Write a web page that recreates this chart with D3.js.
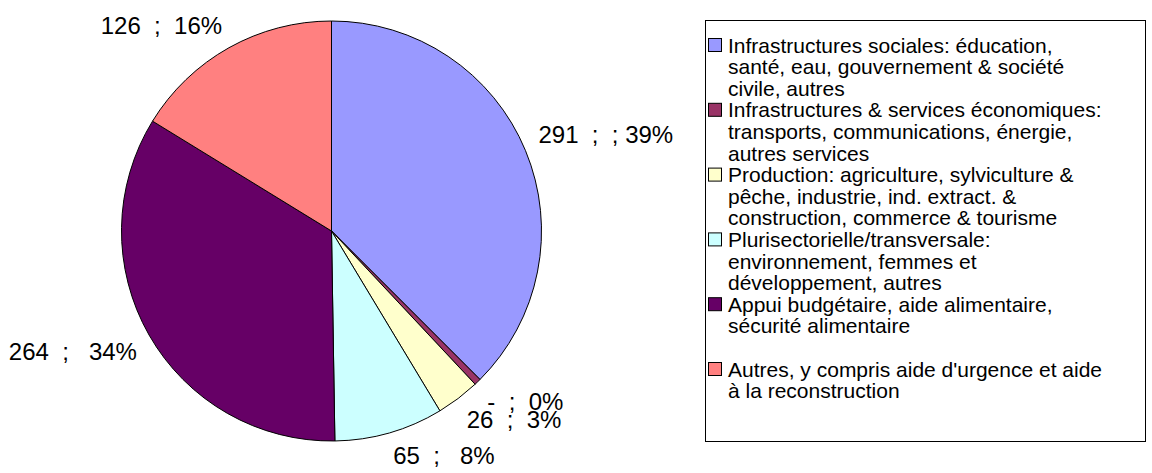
<!DOCTYPE html>
<html>
<head>
<meta charset="utf-8">
<script src="https://cdn.jsdelivr.net/npm/d3@7"></script>
<style>
  html, body { margin: 0; padding: 0; background: #fff; }
  svg { display: block; font-family: "Liberation Sans", Arial, sans-serif; }
</style>
</head>
<body>
<svg id="chart" width="1152" height="473"></svg>
<script>
// ---- data ----
const categories = [
  "Infrastructures sociales: éducation, santé, eau, gouvernement & société civile, autres",
  "Infrastructures & services économiques: transports, communications, énergie, autres services",
  "Production: agriculture, sylviculture & pêche, industrie, ind. extract. & construction, commerce & tourisme",
  "Plurisectorielle/transversale: environnement, femmes et développement, autres",
  "Appui budgétaire, aide alimentaire, sécurité alimentaire",
  "Autres, y compris aide d'urgence et aide à la reconstruction"
];
const legendLines = [
  ["Infrastructures sociales: éducation,", "santé, eau, gouvernement & société", "civile, autres"],
  ["Infrastructures & services économiques:", "transports, communications, énergie,", "autres services"],
  ["Production: agriculture, sylviculture &", "pêche, industrie, ind. extract. &", "construction, commerce & tourisme"],
  ["Plurisectorielle/transversale:", "environnement, femmes et", "développement, autres"],
  ["Appui budgétaire, aide alimentaire,", "sécurité alimentaire"],
  ["Autres, y compris aide d'urgence et aide", "à la reconstruction"]
];
const values = [291, 4, 26, 65, 264, 126];
const sliceLabels = ["291  ;  ; 39%", "-  ;  0%", "26  ;  3%", "65  ;   8%", "264  ;   34%", "126  ;  16%"];
const colors = ["#9999FF", "#993366", "#FFFFCC", "#CCFFFF", "#660066", "#FF8080"];

// ---- layout ----
const svg = d3.select("#chart");
const cx = 331.5, cy = 231, R = 210;
const labelR = 224;
const labelFont = 24;
const legendFont = 21;

const pie = d3.pie().sort(null).value(d => d);
const arcs = pie(values);
const arc = d3.arc().innerRadius(0).outerRadius(R);

const g = svg.append("g").attr("transform", `translate(${cx},${cy})`);
g.selectAll("path.slice")
  .data(arcs)
  .join("path")
  .attr("class", "slice")
  .attr("d", arc)
  .attr("fill", (d, i) => colors[i])
  .attr("stroke", "#000")
  .attr("stroke-width", 1)
  .attr("stroke-linejoin", "round");

// labels
arcs.forEach((d, i) => {
  const a = (d.startAngle + d.endAngle) / 2;
  const px = Math.sin(a) * labelR;
  const py = -Math.cos(a) * labelR;
  const right = px >= 0;
  const bottom = py > 0;
  g.append("text")
    .attr("x", px)
    .attr("y", bottom ? py + 18 : py - 2)
    .attr("text-anchor", right ? "start" : "end")
    .attr("font-size", labelFont)
    .attr("fill", "#000")
    .attr("xml:space", "preserve")
    .style("white-space", "pre")
    .text(sliceLabels[i]);
});

// legend
const lgX = 705.5, lgY = 20.5, lgW = 440, lgH = 421;
svg.append("rect")
  .attr("x", lgX).attr("y", lgY).attr("width", lgW).attr("height", lgH)
  .attr("fill", "#fff").attr("stroke", "#000").attr("stroke-width", 1);

const lineH = 21.6;
const slots = [0, 3, 6, 9, 12, 15];
const firstBase = 52.5;
const lg = svg.append("g");
legendLines.forEach((lines, i) => {
  const baseY = firstBase + slots[i] * lineH;
  lg.append("rect")
    .attr("x", lgX + 3).attr("y", baseY - 14)
    .attr("width", 13).attr("height", 13)
    .attr("fill", colors[i]).attr("stroke", "#000").attr("stroke-width", 1);
  const t = lg.append("text")
    .attr("x", lgX + 22.5).attr("y", baseY)
    .attr("font-size", legendFont).attr("fill", "#000");
  lines.forEach((ln, j) => {
    t.append("tspan").attr("x", lgX + 22.5).attr("y", baseY + j * lineH).text(ln);
  });
});
</script>
</body>
</html>
